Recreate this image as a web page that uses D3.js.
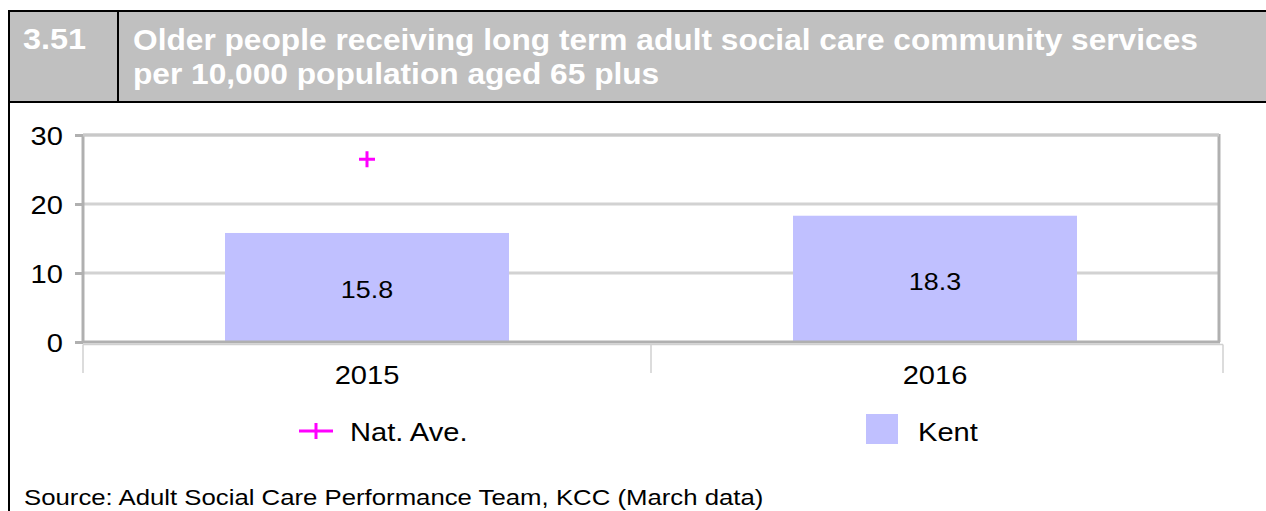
<!DOCTYPE html>
<html>
<head>
<meta charset="utf-8">
<script src="https://cdn.jsdelivr.net/npm/d3@7"></script>
<style>
  html, body { margin: 0; padding: 0; background: #fff; }
  svg { display: block; font-family: "Liberation Sans", Arial, sans-serif; }
</style>
</head>
<body>
<svg id="chart" width="1266" height="511"></svg>
<script>
// Chart data
const indicatorNumber = "3.51";
const titleLines = [
  "Older people receiving long term adult social care community services",
  "per 10,000 population aged 65 plus"
];
const categories = ["2015", "2016"];
const kentValues = [15.8, 18.3];
const natAveValues = [26.5, null];
const yTicks = [0, 10, 20, 30];
const seriesNames = ["Nat. Ave.", "Kent"];
const sourceText = "Source: Adult Social Care Performance Team, KCC (March data)";

// Text in this panel is set slightly wide
const SX = 1.12;
function placeText(sel, x, y, sx = SX) {
  return sel.attr("x", 0).attr("y", 0)
    .attr("transform", `translate(${x},${y}) scale(${sx},1)`);
}
function widenAxisText(axisG) {
  axisG.selectAll(".tick text").each(function () {
    const t = d3.select(this);
    const x = +t.attr("x") || 0, y = +t.attr("y") || 0;
    placeText(t, x, y);
  });
}

const svg = d3.select("#chart");

// Header band
const header = svg.append("g");
header.append("rect").attr("x", 8).attr("y", 11).attr("width", 1266).attr("height", 91)
  .attr("fill", "#c0c0c0");
header.append("line").attr("x1", 8).attr("x2", 1266).attr("y1", 11).attr("y2", 11)
  .attr("stroke", "#000").attr("stroke-width", 2);
header.append("line").attr("x1", 8).attr("x2", 1266).attr("y1", 102).attr("y2", 102)
  .attr("stroke", "#000").attr("stroke-width", 2);
header.append("line").attr("x1", 118).attr("x2", 118).attr("y1", 11).attr("y2", 102)
  .attr("stroke", "#000").attr("stroke-width", 2);
// left frame edge running down the panel
svg.append("line").attr("x1", 9).attr("x2", 9).attr("y1", 10).attr("y2", 511)
  .attr("stroke", "#000").attr("stroke-width", 2);

placeText(header.append("text"), 23, 49, 1.1)
  .attr("fill", "#fff").attr("font-weight", "bold").attr("font-size", 29.5)
  .text(indicatorNumber);
header.selectAll("text.title").data(titleLines).join("text")
  .attr("class", "title")
  .each(function (d, i) { placeText(d3.select(this), 133, 50 + i * 34, 1.1); })
  .attr("fill", "#fff").attr("font-weight", "bold").attr("font-size", 28.8)
  .text(d => d);

// Plot geometry
const plot = { left: 83, right: 1219, top: 135, bottom: 342 };

const y = d3.scaleLinear().domain([0, 30]).range([plot.bottom, plot.top]);
const xCat = d3.scaleBand().domain(categories).range([plot.left, plot.right])
  .paddingInner(0).paddingOuter(0);
const xBar = d3.scaleBand().domain(categories).range([plot.left, plot.right])
  .paddingInner(0.5).paddingOuter(0.25);

const g = svg.append("g");

// Grid lines
g.append("g").selectAll("line").data(yTicks.filter(t => t > 0)).join("line")
  .attr("x1", plot.left).attr("x2", plot.right)
  .attr("y1", d => y(d)).attr("y2", d => y(d))
  .attr("stroke", "#d2d2d2").attr("stroke-width", 3);

// Right frame
g.append("line").attr("x1", plot.right).attr("x2", plot.right)
  .attr("y1", plot.top - 1).attr("y2", plot.bottom)
  .attr("stroke", "#b0b0b0").attr("stroke-width", 3);

// Bars
g.append("g").selectAll("rect").data(categories).join("rect")
  .attr("x", d => xBar(d))
  .attr("width", xBar.bandwidth())
  .attr("y", (d, i) => y(kentValues[i]))
  .attr("height", (d, i) => y(0) - y(kentValues[i]))
  .attr("fill", "#c0c0ff");

// Bar value labels
g.append("g").selectAll("text").data(categories).join("text")
  .each(function (d, i) {
    placeText(d3.select(this), xBar(d) + xBar.bandwidth() / 2,
      (y(kentValues[i]) + y(0)) / 2 + 11);
  })
  .attr("text-anchor", "middle").attr("font-size", 24).attr("fill", "#000")
  .text((d, i) => kentValues[i].toFixed(1));

// Y axis
const yAxis = g.append("g").attr("transform", `translate(${plot.left},0)`)
  .call(d3.axisLeft(y).tickValues(yTicks).tickSize(8).tickPadding(12).tickFormat(d3.format("d")));
yAxis.select(".domain").attr("stroke", "#b0b0b0").attr("stroke-width", 3)
  .attr("d", `M0,${plot.top - 1}V${plot.bottom + 1}`);
yAxis.selectAll(".tick line").attr("stroke", "#b0b0b0").attr("stroke-width", 3);
yAxis.selectAll(".tick text").attr("font-size", 26).attr("fill", "#000")
  .attr("font-family", "Liberation Sans, Arial, sans-serif").attr("dy", "0.35em");
widenAxisText(yAxis);

// Top frame (drawn over grid)
g.append("line").attr("x1", plot.left).attr("x2", plot.right)
  .attr("y1", plot.top).attr("y2", plot.top)
  .attr("stroke", "#c8c8c8").attr("stroke-width", 3);

// Baseline
g.append("line").attr("x1", plot.left).attr("x2", plot.right + 1)
  .attr("y1", plot.bottom).attr("y2", plot.bottom)
  .attr("stroke", "#b0b0b0").attr("stroke-width", 3);

// Category axis below the plot
const catY = plot.bottom + 2.5;
g.append("line").attr("x1", plot.left).attr("x2", plot.right + 4)
  .attr("y1", catY).attr("y2", catY)
  .attr("stroke", "#d0d0d0").attr("stroke-width", 1.5);
const boundaries = categories.map(c => xCat(c)).concat([plot.right + 4]);
g.append("g").selectAll("line").data(boundaries).join("line")
  .attr("x1", d => d).attr("x2", d => d)
  .attr("y1", catY).attr("y2", 373)
  .attr("stroke", "#d0d0d0").attr("stroke-width", 1.5);
const xAxis = g.append("g").attr("transform", `translate(0,${catY})`)
  .call(d3.axisBottom(xCat).tickSize(0).tickPadding(21));
xAxis.select(".domain").remove();
xAxis.selectAll(".tick text").attr("font-size", 26).attr("fill", "#000")
  .attr("font-family", "Liberation Sans, Arial, sans-serif");
widenAxisText(xAxis);

// National average markers
const plusSize = 8;
const natPts = categories.map((c, i) => ({ c, v: natAveValues[i] })).filter(d => d.v != null);
g.append("g").selectAll("path").data(natPts).join("path")
  .attr("d", d => {
    const cx = xCat(d.c) + xCat.bandwidth() / 2, cy = y(d.v);
    return `M${cx - plusSize},${cy}H${cx + plusSize}M${cx},${cy - plusSize}V${cy + plusSize}`;
  })
  .attr("stroke", "#ff00ff").attr("stroke-width", 3).attr("fill", "none");

// Legend
const legend = svg.append("g");
legend.append("path")
  .attr("d", `M299,431H333M316,423V439`)
  .attr("stroke", "#ff00ff").attr("stroke-width", 3).attr("fill", "none");
placeText(legend.append("text"), 350, 441).attr("font-size", 26).attr("fill", "#000")
  .text(seriesNames[0]);
legend.append("rect").attr("x", 866).attr("y", 414).attr("width", 32).attr("height", 30)
  .attr("fill", "#c0c0ff");
placeText(legend.append("text"), 918, 441).attr("font-size", 26).attr("fill", "#000")
  .text(seriesNames[1]);

// Source note
placeText(svg.append("text"), 24, 505).attr("font-size", 23).attr("fill", "#000")
  .text(sourceText);
</script>
</body>
</html>
